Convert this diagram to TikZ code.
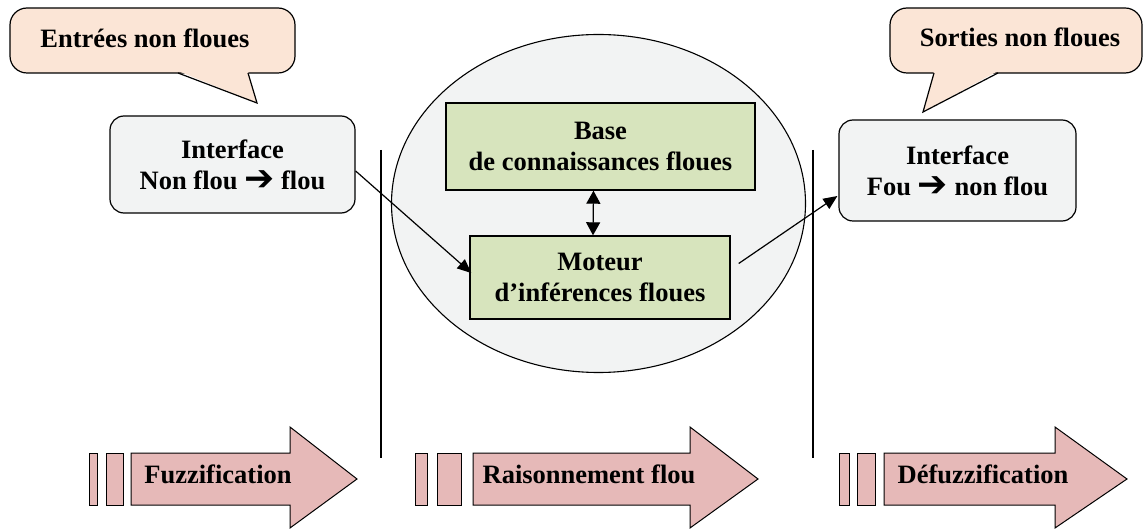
\documentclass[tikz,border=0pt]{standalone}
\usepackage{fontspec}
\setmainfont{Liberation Serif}
\newfontfamily\symfont{DejaVu Sans}
\usetikzlibrary{shapes.geometric,arrows.meta,calc}
\definecolor{peach}{HTML}{FBE5D6}
\definecolor{lgray}{HTML}{F2F3F3}
\definecolor{lgreen}{HTML}{D7E4BD}
\definecolor{pinkarr}{HTML}{E6B9B8}
\newcommand{\rarr}{\smash{\raisebox{-1pt}{\symfont\fontsize{36}{31}\selectfont ➔}}}
\tikzset{
  every node/.style={font=\bfseries\fontsize{26.5}{31}\selectfont},
  calloutbody/.style={draw, line width=1.2pt, fill=peach, rounded corners=17, inner sep=0},
  ifbox/.style={draw, line width=1.2pt, fill=lgray, rounded corners=14, align=center, inner sep=0},
  greenbox/.style={draw, line width=1.4pt, fill=lgreen, align=center, inner sep=0},
  lbl/.style={anchor=base, inner sep=0},
  conn/.style={line width=1.2pt, -{Triangle[length=14pt,width=12pt]}},
  bigarrow/.style={draw, line width=1pt, fill=pinkarr},
}
\begin{document}
\begin{tikzpicture}[x=1pt,y=-1pt]
\useasboundingbox (0,0) rectangle (1146,529);

% left callout
\node[calloutbody, minimum width=285, minimum height=65] (cL) at (152.5,40.5) {};
\fill[peach] (178,71) -- (257,103) -- (248,71) -- cycle;
\draw[line width=1.2pt, line join=miter] (178,73) -- (257,103) -- (248,73);
\node[lbl] (cLt) at (145,48) {Entrées non floues};

% right callout
\node[calloutbody, minimum width=252, minimum height=65] (cR) at (1016,40.5) {};
\fill[peach] (934,71) -- (923,112) -- (998,71) -- cycle;
\draw[line width=1.2pt, line join=miter] (934,73) -- (923,112) -- (998,73);
\node[lbl] (cRt) at (1020,47) {Sorties non floues};

% interfaces
\node[ifbox, minimum width=245, minimum height=97] (ifL) at (232.5,164.5) {Interface\\Non flou \rarr{} flou};
\node[ifbox, minimum width=237, minimum height=101] (ifR) at (957.5,170.5) {Interface\\Fou \rarr{} non flou};

% ellipse
\node[draw, ellipse, line width=1.1pt, fill=lgray, minimum width=414, minimum height=338, inner sep=0] (ell) at (598.5,203.5) {};

% green boxes
\node[greenbox, minimum width=309, minimum height=87] (base) at (600.5,146.5) {Base\\de connaissances floues};
\node[greenbox, minimum width=260, minimum height=83] (mot) at (600,277.5) {Moteur\\d’inférences floues};

% connectors
\draw[line width=1.2pt, {Triangle[length=13pt,width=14pt]}-{Triangle[length=13pt,width=14pt]}] ($(base.south)+(-7,0)$) -- ($(mot.north)+(-7,0)$);
\draw[conn] (ifL.-3.5) -- ($(mot.west)+(2,-4.5)$);
\draw[conn] ($(mot.east)+(8,-14)$) -- ($(ifR.west)+(-1,25.5)$);

% vertical separators
\draw[line width=1.2pt] (381,150) -- (381,458);
\draw[line width=1.2pt] (813,150) -- (813,458);

% bottom arrows
\draw[bigarrow] (89,453) rectangle (97,505);
\draw[bigarrow] (106,453) rectangle (123,505);
\draw[bigarrow, line join=miter] (131,453) -- (290,453) -- (290,427) -- (357,479) -- (290,528) -- (290,505) -- (131,505) -- cycle;
\node[lbl] (t1) at (218,483) {Fuzzification};

\draw[bigarrow] (415,453) rectangle (427,505);
\draw[bigarrow] (437,453) rectangle (461,505);
\draw[bigarrow, line join=miter] (473,453) -- (690,453) -- (690,427) -- (758,479) -- (690,528) -- (690,505) -- (473,505) -- cycle;
\node[lbl] (t2) at (589,483) {Raisonnement flou};

\draw[bigarrow] (839,453) rectangle (849,505);
\draw[bigarrow] (857,453) rectangle (875,505);
\draw[bigarrow, line join=miter] (884,453) -- (1055,453) -- (1055,427) -- (1127,479) -- (1055,528) -- (1055,505) -- (884,505) -- cycle;
\node[lbl] (t3) at (983,483) {Défuzzification};
\end{tikzpicture}
\end{document}
